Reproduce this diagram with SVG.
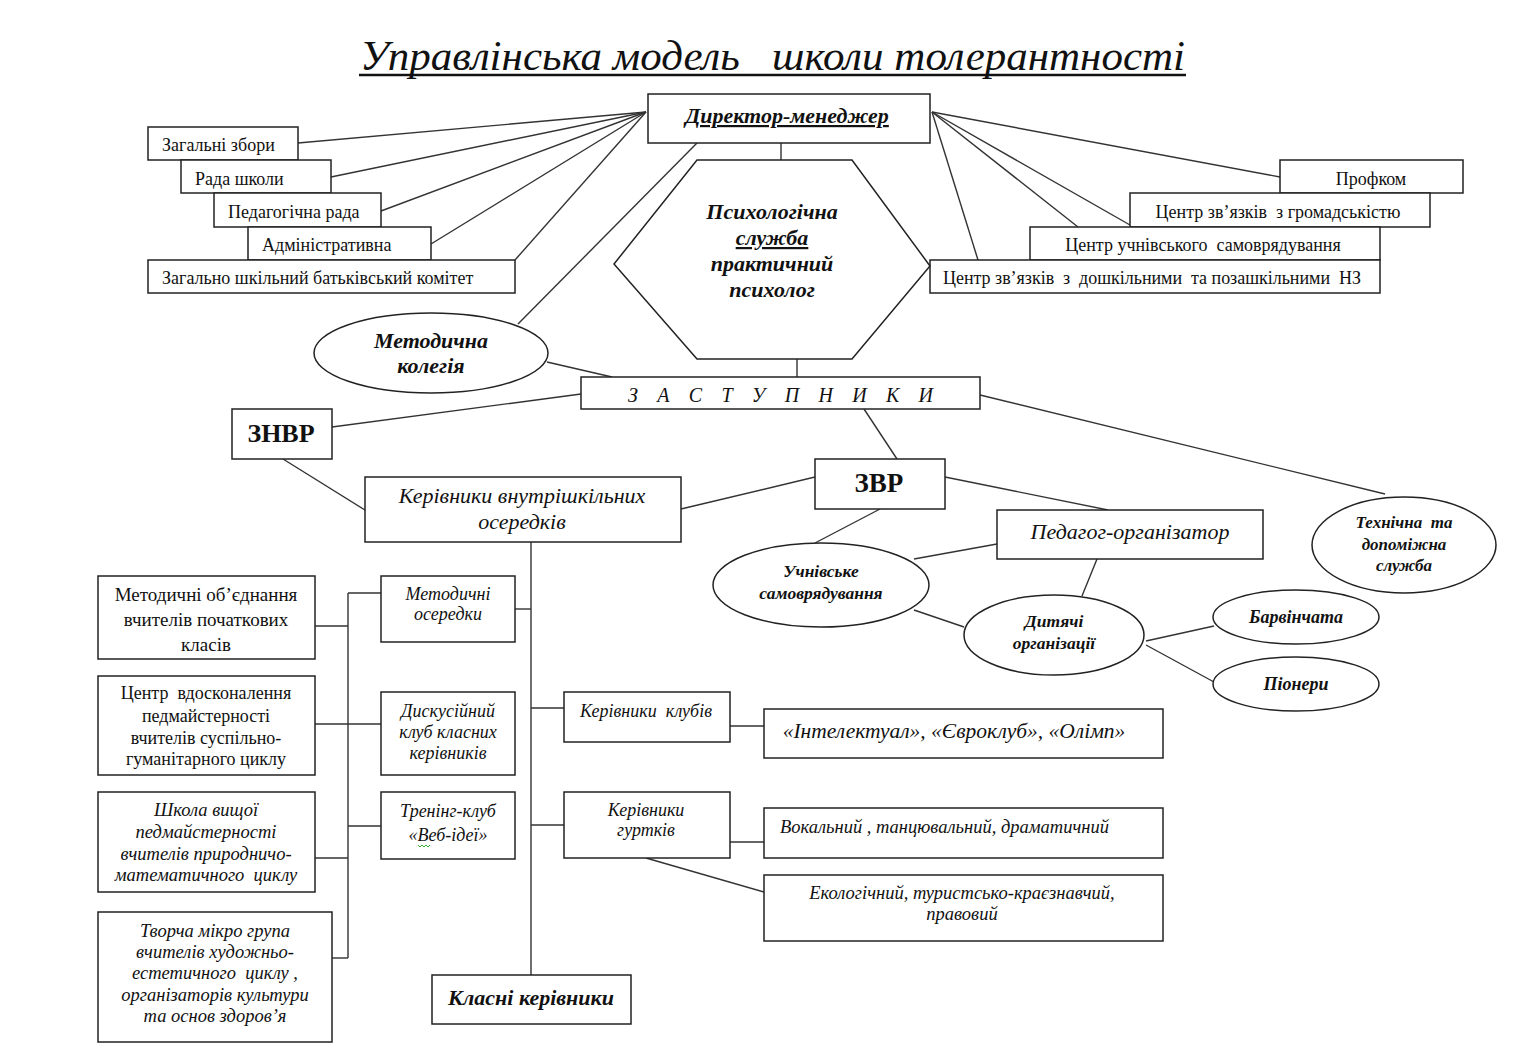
<svg xmlns="http://www.w3.org/2000/svg" width="1536" height="1052" viewBox="0 0 1536 1052" xml:space="preserve">
<style>
.b{fill:#fff;stroke:#222;stroke-width:1.5}
.c line,.c polyline{stroke:#333;stroke-width:1.4;fill:none}
text{font-family:"Liberation Serif","DejaVu Serif",serif;fill:#111;white-space:pre}
.r{font-size:18px}
.i{font-style:italic}
.bi{font-style:italic;font-weight:bold}
.m{text-anchor:middle}
</style>
<rect width="1536" height="1052" fill="#fff"/>
<text x="360" y="70" class="i" font-size="42" textLength="825" lengthAdjust="spacingAndGlyphs">Управлінська модель   школи толерантності</text>
<line x1="359" y1="75" x2="1186" y2="75" stroke="#111" stroke-width="2.5"/>

<g class="c">
<line x1="646" y1="112" x2="298" y2="143"/>
<line x1="646" y1="112" x2="331" y2="177"/>
<line x1="646" y1="112" x2="381" y2="211"/>
<line x1="646" y1="112" x2="431" y2="244"/>
<line x1="646" y1="112" x2="515" y2="260"/>
<line x1="697" y1="143" x2="518" y2="324"/>
<line x1="932" y1="112" x2="1280" y2="177"/>
<line x1="932" y1="112" x2="1130" y2="225"/>
<line x1="932" y1="112" x2="1078" y2="227"/>
<line x1="932" y1="112" x2="978" y2="260"/>
<line x1="781" y1="143" x2="781" y2="160"/>
<line x1="797" y1="359" x2="797" y2="377"/>
<line x1="547" y1="362" x2="612" y2="377"/>
<line x1="332" y1="427" x2="581" y2="394"/>
<line x1="283" y1="459" x2="365" y2="510"/>
<line x1="681" y1="509" x2="815" y2="477"/>
<line x1="864" y1="409" x2="897" y2="459"/>
<line x1="980" y1="395" x2="1385" y2="494"/>
<line x1="945" y1="477" x2="1108" y2="510"/>
<line x1="880" y1="509" x2="815" y2="543"/>
<line x1="914" y1="559" x2="997" y2="544"/>
<line x1="1097" y1="559" x2="1082" y2="596"/>
<line x1="914" y1="610" x2="964" y2="627"/>
<line x1="1146" y1="641" x2="1214" y2="626"/>
<line x1="1146" y1="645" x2="1214" y2="682"/>
<line x1="531" y1="542" x2="531" y2="975"/>
<line x1="515" y1="609" x2="531" y2="609"/>
<line x1="531" y1="708" x2="564" y2="708"/>
<line x1="531" y1="825" x2="564" y2="825"/>
<line x1="730" y1="726" x2="764" y2="726"/>
<line x1="730" y1="842" x2="764" y2="842"/>
<line x1="646" y1="858" x2="764" y2="892"/>
<line x1="348" y1="593" x2="348" y2="958"/>
<line x1="348" y1="593" x2="381" y2="593"/>
<line x1="315" y1="626" x2="348" y2="626"/>
<line x1="315" y1="724" x2="381" y2="724"/>
<line x1="315" y1="858" x2="348" y2="858"/>
<line x1="348" y1="826" x2="381" y2="826"/>
<line x1="332" y1="958" x2="348" y2="958"/>
</g>

<g id="director">
<rect class="b" x="648" y="94" width="282" height="49"/>
<text x="787" y="123" class="bi m" font-size="22" text-decoration="underline">Директор-менеджер</text>
</g>

<g id="zahalni-zbory"><rect class="b" x="148" y="127" width="150" height="33"/><text x="162" y="151" class="r">Загальні збори</text></g>
<g id="rada-shkoly"><rect class="b" x="181" y="160" width="150" height="33"/><text x="195" y="185" class="r">Рада школи</text></g>
<g id="ped-rada"><rect class="b" x="214" y="193" width="167" height="34"/><text x="228" y="218" class="r">Педагогічна рада</text></g>
<g id="admin"><rect class="b" x="248" y="227" width="183" height="33"/><text x="262" y="251" class="r">Адміністративна</text></g>
<g id="batk-komitet"><rect class="b" x="148" y="260" width="367" height="33"/><text x="162" y="284" class="r">Загально шкільний батьківський комітет</text></g>

<g id="profkom"><rect class="b" x="1280" y="160" width="183" height="33"/><text x="1371" y="185" class="r m">Профком</text></g>
<g id="tsentr-hromad"><rect class="b" x="1130" y="193" width="300" height="34"/><text x="1278" y="218" class="r m">Центр зв’язків  з громадськістю</text></g>
<g id="tsentr-samovr"><rect class="b" x="1030" y="227" width="350" height="33"/><text x="1203" y="251" class="r m">Центр учнівського  самоврядування</text></g>
<g id="tsentr-doshk"><rect class="b" x="930" y="260" width="450" height="33"/><text x="943" y="284" class="r" textLength="418" lengthAdjust="spacing">Центр зв’язків  з  дошкільними  та позашкільними  НЗ</text></g>

<g id="psykh-sluzhba">
<polygon class="b" points="697,160 852,160 930,266 852,359 697,359 614,264"/>
<text x="772" y="219" class="bi m" font-size="22">Психологічна</text>
<text x="772" y="245" class="bi m" font-size="22" text-decoration="underline">служба</text>
<text x="772" y="271" class="bi m" font-size="22">практичний</text>
<text x="772" y="297" class="bi m" font-size="22">психолог</text>
</g>

<g id="metod-kolehiia">
<ellipse class="b" cx="431" cy="353" rx="117" ry="40"/>
<text x="431" y="348" class="bi m" font-size="22">Методична</text>
<text x="431" y="373" class="bi m" font-size="22">колегія</text>
</g>

<g id="zastupnyky">
<rect class="b" x="581" y="377" width="399" height="32"/>
<text x="628" y="402" class="i" font-size="20" textLength="305" lengthAdjust="spacing">З   А   С   Т   У   П   Н   И   К   И</text>
</g>

<g id="znvr"><rect class="b" x="232" y="409" width="100" height="50"/><text x="281" y="442" class="m" font-size="26" font-weight="bold">ЗНВР</text></g>

<g id="kerivnyky-oseredkiv">
<rect class="b" x="365" y="477" width="316" height="65"/>
<text x="522" y="503" class="i m" font-size="22">Керівники внутрішкільних</text>
<text x="522" y="529" class="i m" font-size="22">осередків</text>
</g>

<g id="zvr"><rect class="b" x="815" y="459" width="130" height="50"/><text x="879" y="492" class="m" font-size="27" font-weight="bold">ЗВР</text></g>

<g id="tekhnichna">
<ellipse class="b" cx="1404" cy="545" rx="92" ry="48"/>
<text x="1404" y="528" class="bi m" font-size="17">Технічна  та</text>
<text x="1404" y="550" class="bi m" font-size="17">допоміжна</text>
<text x="1404" y="571" class="bi m" font-size="17">служба</text>
</g>

<g id="pedahoh-orh"><rect class="b" x="997" y="510" width="266" height="49"/><text x="1130" y="539" class="i m" font-size="22">Педагог-організатор</text></g>

<g id="uchnivske">
<ellipse class="b" cx="821" cy="585" rx="108" ry="42"/>
<text x="821" y="577" class="bi m" font-size="17.5">Учнівське</text>
<text x="821" y="599" class="bi m" font-size="17.5">самоврядування</text>
</g>

<g id="dytiachi">
<ellipse class="b" cx="1054" cy="635" rx="90" ry="40"/>
<text x="1054" y="627" class="bi m" font-size="17.5">Дитячі</text>
<text x="1054" y="649" class="bi m" font-size="17.5">організації</text>
</g>

<g id="barvinchata"><ellipse class="b" cx="1296" cy="617" rx="83" ry="27"/><text x="1296" y="623" class="bi m" font-size="18">Барвінчата</text></g>
<g id="pionery"><ellipse class="b" cx="1296" cy="684" rx="83" ry="27"/><text x="1296" y="690" class="bi m" font-size="18">Піонери</text></g>

<g id="metod-obiednannia">
<rect class="b" x="98" y="576" width="217" height="83"/>
<text x="206" y="601" class="m" font-size="19">Методичні об’єднання</text>
<text x="206" y="626" class="m" font-size="19">вчителів початкових</text>
<text x="206" y="651" class="m" font-size="19">класів</text>
</g>

<g id="tsentr-vdoskon">
<rect class="b" x="98" y="676" width="217" height="99"/>
<text x="206" y="699" class="m" font-size="18">Центр  вдосконалення</text>
<text x="206" y="722" class="m" font-size="18">педмайстерності</text>
<text x="206" y="744" class="m" font-size="18">вчителів суспільно-</text>
<text x="206" y="765" class="m" font-size="18">гуманітарного циклу</text>
</g>

<g id="shkola-vyshchoi">
<rect class="b" x="98" y="792" width="217" height="100"/>
<text x="206" y="816" class="i m" font-size="18.5">Школа вищої</text>
<text x="206" y="838" class="i m" font-size="18.5">педмайстерності</text>
<text x="206" y="860" class="i m" font-size="18.5">вчителів природничо-</text>
<text x="206" y="881" class="i m" font-size="18.5">математичного  циклу</text>
</g>

<g id="tvorcha-hrupa">
<rect class="b" x="98" y="912" width="234" height="130"/>
<text x="215" y="937" class="i m" font-size="18.5">Творча мікро група</text>
<text x="215" y="958" class="i m" font-size="18.5">вчителів художньо-</text>
<text x="215" y="979" class="i m" font-size="18.5">естетичного  циклу ,</text>
<text x="215" y="1001" class="i m" font-size="18.5">організаторів культури</text>
<text x="215" y="1022" class="i m" font-size="18.5">та основ здоров’я</text>
</g>

<g id="metod-oseredky">
<rect class="b" x="381" y="576" width="134" height="66"/>
<text x="448" y="600" class="i m" font-size="18">Методичні</text>
<text x="448" y="620" class="i m" font-size="18">осередки</text>
</g>

<g id="dyskusiinyi">
<rect class="b" x="381" y="692" width="134" height="83"/>
<text x="448" y="717" class="i m" font-size="18">Дискусійний</text>
<text x="448" y="738" class="i m" font-size="18">клуб класних</text>
<text x="448" y="759" class="i m" font-size="18">керівників</text>
</g>

<g id="treninh-klub">
<rect class="b" x="381" y="792" width="134" height="67"/>
<text x="448" y="817" class="i m" font-size="18">Тренінг-клуб</text>
<text x="448" y="841" class="i m" font-size="18">«Веб-ідеї»</text>
<polyline points="418,845 420,847 422,845 424,847 426,845 428,847 430,845" fill="none" stroke="#3a3" stroke-width="1"/>
</g>

<g id="klasni"><rect class="b" x="432" y="975" width="199" height="49"/><text x="531" y="1005" class="bi m" font-size="22">Класні керівники</text></g>

<g id="kerivnyky-klubiv"><rect class="b" x="564" y="692" width="166" height="50"/><text x="646" y="717" class="i m" font-size="18">Керівники  клубів</text></g>
<g id="kluby"><rect class="b" x="764" y="709" width="399" height="49"/><text x="954" y="738" class="i m" font-size="21.5">«Інтелектуал», «Євроклуб», «Олімп»</text></g>

<g id="kerivnyky-hurtkiv">
<rect class="b" x="564" y="792" width="166" height="66"/>
<text x="646" y="816" class="i m" font-size="18">Керівники</text>
<text x="646" y="836" class="i m" font-size="18">гуртків</text>
</g>
<g id="vokalnyi"><rect class="b" x="764" y="808" width="399" height="50"/><text x="780" y="833" class="i" font-size="18.5">Вокальний , танцювальний, драматичний</text></g>
<g id="ekolohichnyi">
<rect class="b" x="764" y="875" width="399" height="66"/>
<text x="962" y="899" class="i m" font-size="18.5">Екологічний, туристсько-краєзнавчий,</text>
<text x="962" y="920" class="i m" font-size="18.5">правовий</text>
</g>
</svg>
